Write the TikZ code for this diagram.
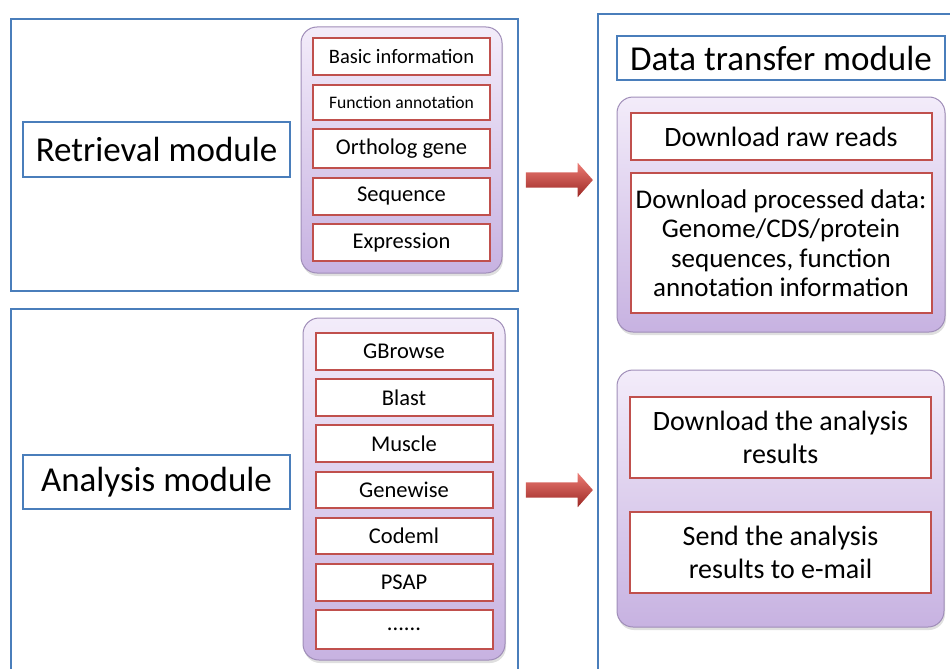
\documentclass[tikz,border=0pt]{standalone}
\usepackage{fontspec}
\setmainfont{Carlito}
\usetikzlibrary{positioning,shapes.arrows,shadows}

\definecolor{frameblue}{HTML}{4A7EBB}
\definecolor{itemred}{HTML}{C0504D}
\definecolor{purptop}{HTML}{F3ECFA}
\definecolor{purpbot}{HTML}{C7B2E1}
\definecolor{purpline}{HTML}{9F8DB8}
\definecolor{arrowtop}{HTML}{EC7B74}
\definecolor{arrowmid}{HTML}{D2413A}
\definecolor{arrowbot}{HTML}{9C2824}

\begin{document}
\begin{tikzpicture}[
    x=1pt, y=1pt,
    modframe/.style={draw=frameblue, line width=2pt, anchor=north west, inner sep=0pt},
    modbox/.style={draw=frameblue, line width=1.6pt, fill=white, inner sep=0pt,
                   font=\fontsize{35}{40}\selectfont},
    panel/.style={draw=purpline, line width=1pt, rounded corners=16pt,
                  top color=purptop, bottom color=purpbot, anchor=north west, inner sep=0pt,
                  outer sep=0pt,
                  drop shadow={opacity=0.25, shadow xshift=1pt, shadow yshift=-3pt}},
    listbox/.style={draw=itemred, line width=2pt, fill=white, minimum width=177pt,
                    minimum height=37pt, inner sep=0pt, outer sep=0pt,
                    font=\fontsize{22.5}{26}\selectfont},
    dlbox/.style={draw=itemred, line width=2pt, fill=white, minimum width=301pt,
                  inner sep=0pt, outer sep=0pt, align=center, font=\fontsize{28}{33}\selectfont},
    bigarrow/.style={single arrow, draw=none, single arrow head extend=9.5pt,
                     single arrow tip angle=97, minimum height=67pt, minimum width=34pt,
                     inner xsep=0pt, inner ysep=7.5pt,
                     top color=arrowtop, middle color=arrowmid, bottom color=arrowbot}
]
\useasboundingbox (0,0) rectangle (950,-669);

% module frames
\node[modframe, minimum width=507pt, minimum height=272pt] (retrframe) at (10,-18) {};
\node[modframe, minimum width=507pt, minimum height=372pt] (anaframe) at (10,-308) {};
\node[modframe, minimum width=365pt, minimum height=665pt] (dataframe) at (597,-13) {};

% module titles
\node[modbox, minimum width=267pt, minimum height=55pt] (retr) at (156.5,-149.5) {Retrieval module};
\node[modbox, minimum width=267pt, minimum height=54pt] (ana) at (156.5,-482) {Analysis module};
\node[modbox, minimum width=328pt, minimum height=44pt] (data) at (781,-58) {Data transfer module};

% retrieval panel
\node[panel, minimum width=201pt, minimum height=246pt] (rpanel) at (301,-27) {};
\node[listbox, below=11pt of rpanel.north, font=\fontsize{20.5}{24}\selectfont] (basic) {Basic information};
\node[listbox, below=9.5pt of basic, minimum height=35pt, font=\fontsize{17.6}{20}\selectfont] (func) {Function annotation};
\node[listbox, below=9.5pt of func, minimum height=39pt] (orth) {Ortholog gene};
\node[listbox, below=9.5pt of orth] (seq) {Sequence};
\node[listbox, below=9.5pt of seq] (expr) {Expression};

% analysis panel
\node[panel, minimum width=202pt, minimum height=342pt] (apanel) at (303,-318) {};
\node[listbox, minimum height=36.5pt, below=15pt of apanel.north] (gbrowse) {GBrowse};
\node[listbox, minimum height=36.5pt, below=9.7pt of gbrowse] (blast) {Blast};
\node[listbox, minimum height=36.5pt, below=9.7pt of blast] (muscle) {Muscle};
\node[listbox, minimum height=36.5pt, below=9.7pt of muscle] (genewise) {Genewise};
\node[listbox, minimum height=36.5pt, below=9.7pt of genewise] (codeml) {Codeml};
\node[listbox, minimum height=36.5pt, below=9.7pt of codeml] (psap) {PSAP};
\node[listbox, minimum height=39pt, below=9.7pt of psap] (more) {......};

% data transfer panels
\node[panel, minimum width=328pt, minimum height=235pt] (dpanel) at (617,-97) {};
\node[dlbox, minimum height=47pt, below=16pt of dpanel.north] (raw) {Download raw reads};
\node[dlbox, minimum height=140pt, below=13pt of raw, font=\fontsize{27}{29.5}\selectfont] (proc)
    {Download processed data:\\Genome/CDS/protein\\sequences, function\\annotation information};

\node[panel, minimum width=327pt, minimum height=257pt] (spanel) at (617,-370) {};
\node[dlbox, minimum height=81pt, below=27pt of spanel.north] (dlres) {Download the analysis\\results};
\node[dlbox, minimum height=81pt, below=34pt of dlres] (mail) {Send the analysis\\results to e-mail};

% block arrows
\node[bigarrow] (arr1) at (556,-180) {};
\node[bigarrow] (arr2) at (556,-490) {};

\end{tikzpicture}
\end{document}
